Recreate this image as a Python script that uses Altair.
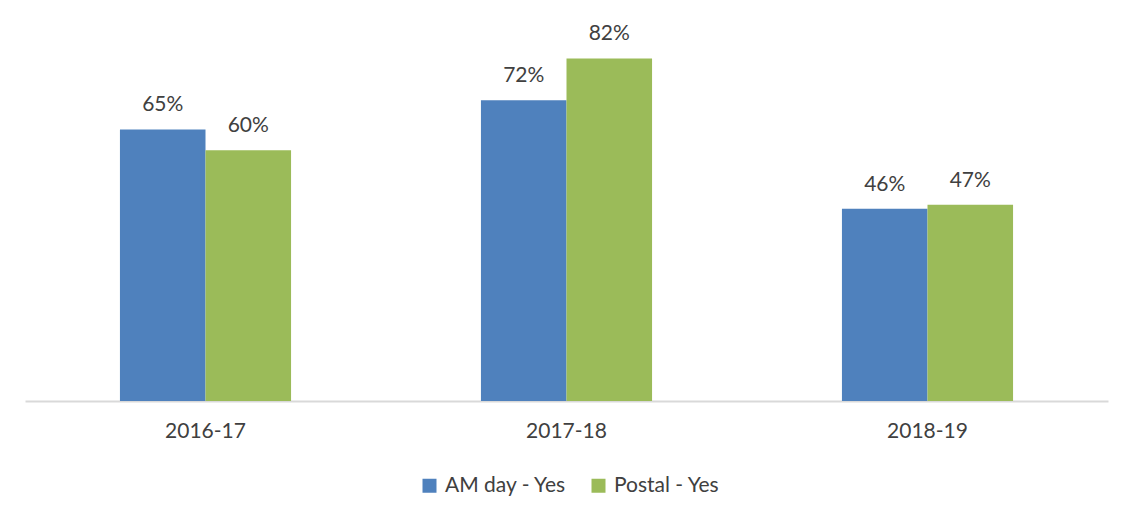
import altair as alt
import pandas as pd

years = ["2016-17", "2017-18", "2018-19"]
series = ["AM day - Yes", "Postal - Yes"]
am_day = [0.65, 0.72, 0.46]
postal = [0.60, 0.82, 0.47]
colors = ["#4F81BD", "#9BBB59"]

rows = []
for i, y in enumerate(years):
    rows.append({"year": y, "series": series[0], "value": am_day[i]})
    rows.append({"year": y, "series": series[1], "value": postal[i]})
df = pd.DataFrame(rows)

FONT = "Lato"
TEXT = "#404040"
FS = 21

x = alt.X("year:N", sort=years, title=None,
          scale=alt.Scale(paddingInner=0.526, paddingOuter=0.263),
          axis=alt.Axis(labelAngle=0, labelFont=FONT, labelFontSize=FS,
                        labelColor=TEXT, labelPadding=19, ticks=False,
                        domainColor="#D9D9D9", domainWidth=2))
y = alt.Y("value:Q", title=None, axis=None,
          scale=alt.Scale(domain=[0, 0.9], nice=False))
xoff = alt.XOffset("series:N", sort=series)

bars = alt.Chart(df).mark_bar().encode(
    x=x, y=y, xOffset=xoff,
    color=alt.Color("series:N", sort=series,
                    scale=alt.Scale(domain=series, range=colors),
                    legend=alt.Legend(title=None, orient="none", direction="horizontal",
                                      legendX=394, legendY=450,
                                      symbolType="square", symbolSize=196,
                                      symbolStrokeWidth=0,
                                      labelFont=FONT, labelFontSize=FS,
                                      labelColor=TEXT, labelOffset=5,
                                      columnPadding=21)),
)

labels = alt.Chart(df).mark_text(
    baseline="bottom", dy=-14, font=FONT, fontSize=FS, color=TEXT
).encode(
    x=alt.X("year:N", sort=years), y="value:Q", xOffset=xoff,
    text=alt.Text("value:Q", format=".0%"),
)

chart = alt.layer(bars, labels).properties(
    width=1083, height=376,
    autosize=alt.AutoSizeParams(type="none"),
    padding={"left": 25, "top": 25, "right": 26, "bottom": 119},
).configure(background="white").configure_view(strokeWidth=0)

chart.save("out.html", embed_options={"renderer": "svg", "actions": False})
